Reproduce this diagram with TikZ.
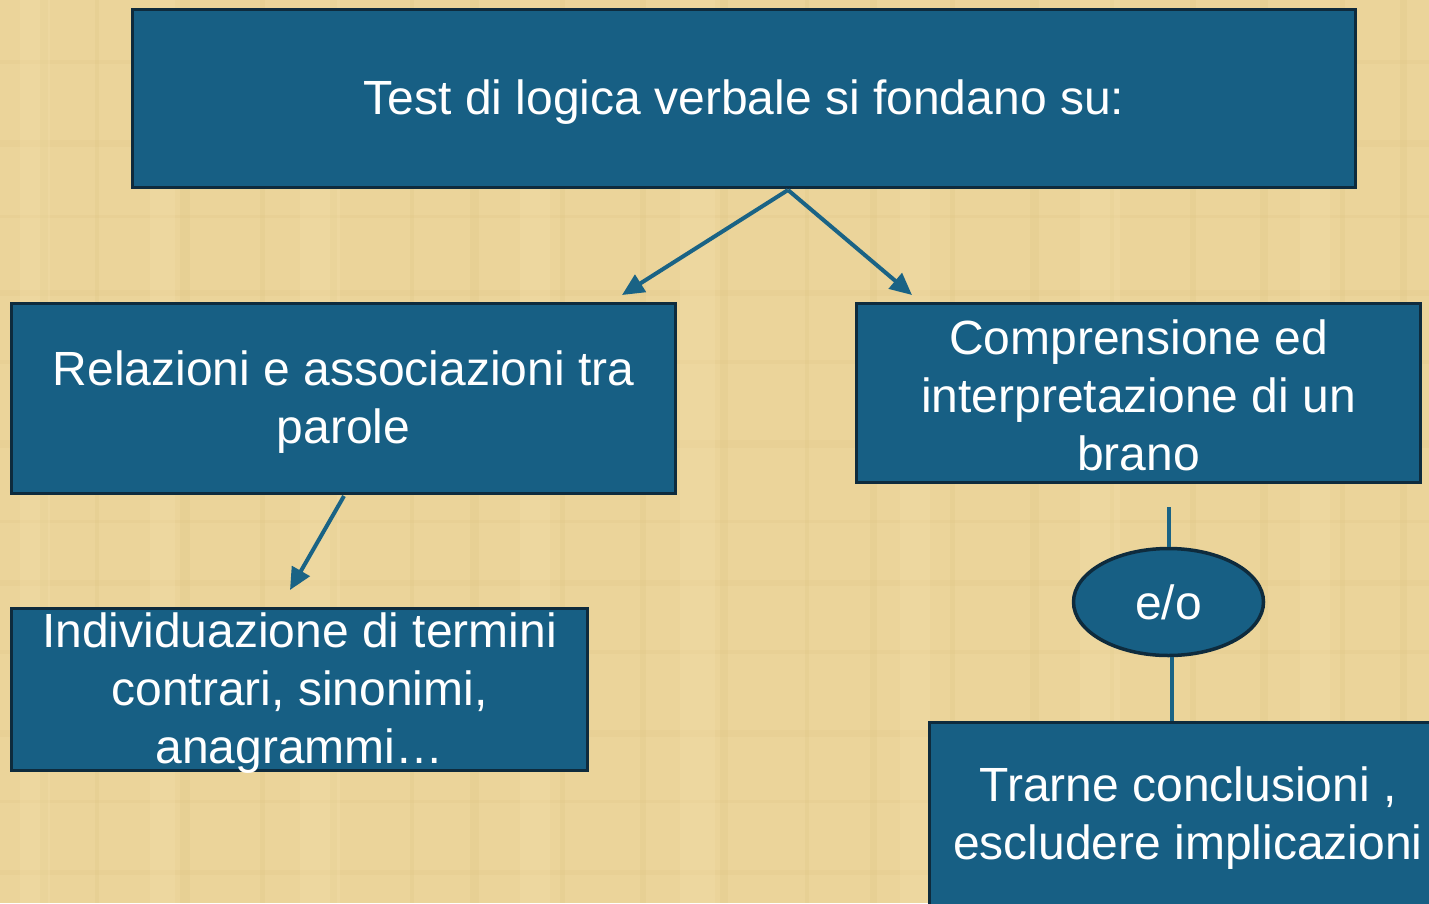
\documentclass[tikz,border=0pt]{standalone}
\usepackage{fontspec}
\setmainfont{Liberation Sans}
\usetikzlibrary{shapes.geometric,arrows.meta}
\definecolor{parch}{RGB}{235,212,154}
\definecolor{parchdark}{RGB}{218,190,125}
\definecolor{parchlight}{RGB}{244,226,175}
\definecolor{boxfill}{RGB}{23,95,132}
\definecolor{boxline}{RGB}{14,43,61}
\definecolor{linkcol}{RGB}{26,99,133}
\tikzset{
  box/.style={draw=boxline, line width=3pt, fill=boxfill, inner sep=0pt},
  txt/.style={text=white, align=center, inner sep=0pt, yshift=-4pt,
    font=\fontsize{48}{58}\selectfont},
  oval/.style={ellipse, draw=boxline, line width=3.5pt, fill=boxfill, text=white, inner sep=0pt,
    font=\fontsize{48}{58}\selectfont, minimum width=190pt, minimum height=107pt},
  link/.style={draw=linkcol, line width=4pt, -{Triangle[length=22pt,width=20pt]}},
  plain/.style={draw=linkcol, line width=4pt}
}
\begin{document}
\begin{tikzpicture}[x=1pt,y=-1pt]
\useasboundingbox (0,0) rectangle (1429,903);
\fill[parch] (0,0) rectangle (1429,903);
\begin{scope}
\clip (0,0) rectangle (1429,903);
% faint parchment texture
\foreach \x/\w in {40/8,95/4,180/10,260/5,330/7,410/4,470/9,560/5,640/6,720/8,805/4,870/7,950/5,1030/9,1110/4,1190/6,1260/8,1340/5,1400/7}
  \fill[parchdark,opacity=0.18] (\x,0) rectangle ++(\w,903);
\foreach \y/\h in {60/4,140/7,215/3,290/6,360/4,440/8,520/3,580/6,650/4,730/7,800/3,870/5}
  \fill[parchdark,opacity=0.15] (0,\y) rectangle ++(1429,\h);
\foreach \x/\w in {20/30,150/25,300/40,520/30,680/35,900/30,1080/40,1300/30}
  \fill[parchlight,opacity=0.25] (\x,0) rectangle ++(\w,903);

\node[box, minimum width=1223pt, minimum height=178pt,
  label={[txt]center:Test di logica verbale si fondano su:}] (top) at (744,98.5) {};
\node[box, minimum width=664pt, minimum height=190pt,
  label={[txt]center:{Relazioni e associazioni tra\\parole}}] (rel) at (343.5,398.5) {};
\node[box, minimum width=564pt, minimum height=179pt,
  label={[txt, yshift=2pt]center:{Comprensione ed\\interpretazione di un\\brano}}] (comp) at (1138.5,393) {};
\node[box, minimum width=576pt, minimum height=162pt,
  label={[txt]center:{Individuazione di termini\\contrari, sinonimi,\\anagrammi…}}] (ind) at (299.5,689.5) {};
\node[oval] (eo) at (1168.5,602) {e/o};
\node[box, minimum width=518pt, minimum height=184pt,
  label={[txt]center:{Trarne conclusioni ,\\escludere implicazioni}}] (trar) at (1188,814) {};

\coordinate (s1) at (788,190);
\coordinate (e1) at (622,295);
\coordinate (e2) at (912,295);
\coordinate (s3) at (344,496);
\coordinate (e3) at (290,590);
\coordinate (c1) at (1168.5,507);
\coordinate (c2) at (1172,720.5);
\draw[link] (s1) -- (e1);
\draw[link] (s1) -- (e2);
\draw[link] (s3) -- (e3);
\draw[plain] (c1) -- (eo.north);
\draw[plain] (eo.south -| c2) -- (c2);
\end{scope}
\end{tikzpicture}
\end{document}
